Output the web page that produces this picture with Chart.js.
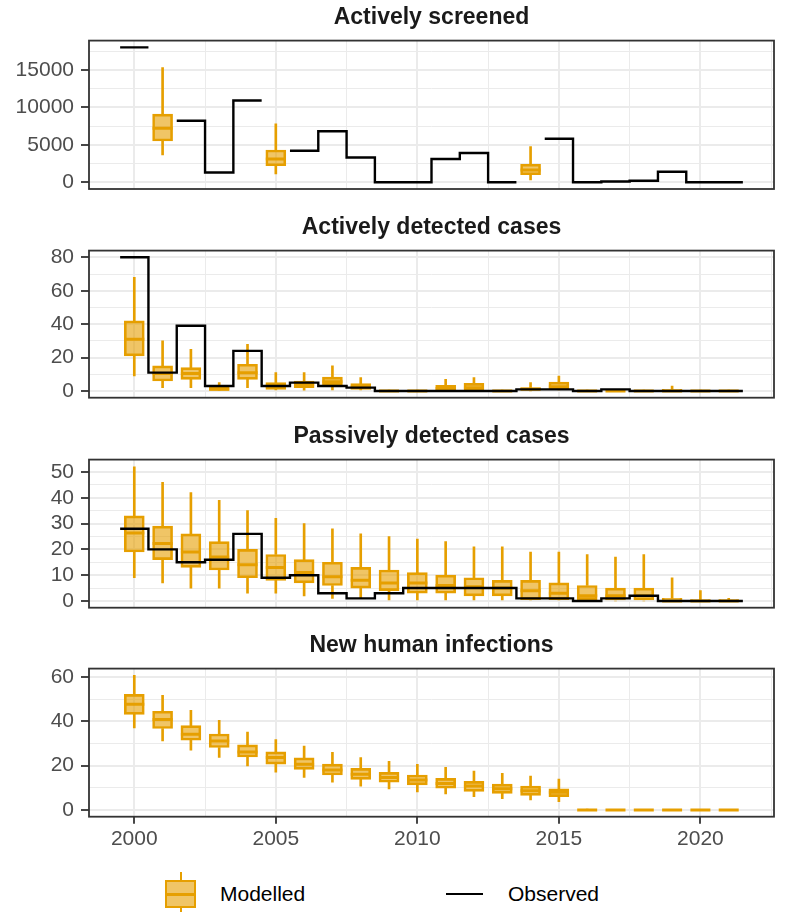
<!DOCTYPE html>
<html>
<head>
<meta charset="utf-8">
<script src="https://cdn.jsdelivr.net/npm/chart.js@4.4.1/dist/chart.umd.min.js"></script>
<style>
  html, body { margin: 0; padding: 0; background: #ffffff; }
  #page { position: relative; width: 787px; height: 912px; overflow: hidden;
          font-family: 'Liberation Sans', Arial, Helvetica, sans-serif; }
  #page canvas { position: absolute; left: 0; }
  .key-box { position: absolute; left: 165px; top: 880px; width: 31px; height: 28px;
             box-sizing: border-box; border: 2px solid #E69F00; background: rgba(230, 159, 0, 0.6); }
  .key-box .median { position: absolute; left: 0; right: 0; top: 10.5px; height: 3px; background: #E69F00; }
  .key-box .whisker { position: absolute; left: 12.5px; width: 2px; height: 8px; background: #E69F00; }
  .key-box .whisker.up { top: -10px; }
  .key-box .whisker.down { top: 26px; }
  .key-line { position: absolute; left: 446px; top: 892.8px; width: 37px; height: 2.4px; background: #000000; }
  .key-label { position: absolute; top: 882px; font-size: 21px; line-height: 24px; color: #000000; }
</style>
</head>
<body>
<div id="page">
  <canvas id="screened" width="787" height="210" style="top:0px"></canvas>
  <canvas id="active" width="787" height="209" style="top:210px"></canvas>
  <canvas id="passive" width="787" height="209" style="top:419px"></canvas>
  <canvas id="infections" width="787" height="240" style="top:628px"></canvas>

  <div class="key-box"><span class="whisker up"></span><span class="median"></span><span class="whisker down"></span></div>
  <span class="key-label" style="left:220px">Modelled</span>
  <div class="key-line"></div>
  <span class="key-label" style="left:508px">Observed</span>
</div>

<script>
// years shown on the x axis
const years = [2000, 2001, 2002, 2003, 2004, 2005, 2006, 2007, 2008, 2009, 2010,
               2011, 2012, 2013, 2014, 2015, 2016, 2017, 2018, 2019, 2020, 2021];
const xTicks = [2000, 2002.5, 2005, 2007.5, 2010, 2012.5, 2015, 2017.5, 2020, 2022.5];
const xLabels = [2000, 2005, 2010, 2015, 2020];
const xRange = [1998.4, 2022.6];

// Actively screened
const screenedObserved = [18000, null, 8200, 1300, 10900, null, 4200, 6800, 3300, 0, 0,
                          3100, 3900, 0, null, 5800, 0, 100, 200, 1400, 0, 0];
const screenedLow    = [null, 3650, null, null, null, 1100, null, null, null, null, null,
                        null, null, null, 300, null, null, null, null, null, null, null];
const screenedQ1     = [null, 5500, null, null, null, 2200, null, null, null, null, null,
                        null, null, null, 1000, null, null, null, null, null, null, null];
const screenedMedian = [null, 7200, null, null, null, 3100, null, null, null, null, null,
                        null, null, null, 1650, null, null, null, null, null, null, null];
const screenedQ3     = [null, 9100, null, null, null, 4300, null, null, null, null, null,
                        null, null, null, 2400, null, null, null, null, null, null, null];
const screenedHigh   = [null, 15300, null, null, null, 7800, null, null, null, null, null,
                        null, null, null, 4750, null, null, null, null, null, null, null];
const screenedTicks = [0, 2500, 5000, 7500, 10000, 12500, 15000, 17500];
const screenedLabels = [0, 5000, 10000, 15000];
const screenedRange = [-900, 18900];

// Actively detected cases
const activeObserved = [80, 11, 39, 3, 24, 3, 5, 3, 2, 0, 0, 0, 0, 0, 1, 1, 0, 1, 0, 0, 0, 0];
const activeLow    = [9, 2, 2, 0, 2, 0, 0.5, 0, 0, 0, 0, 0, 0, 0, 0, 0, 0, 0, 0, 0, 0, 0];
const activeQ1     = [21, 6, 7, 0.3, 7, 1, 2, 3.4, 1, 0, 0, 0.4, 0.5, 0, 0, 1.4, 0, 0, 0, 0, 0, 0];
const activeMedian = [31, 10.5, 10.5, 1, 11, 3, 4, 5.5, 2.5, 0, 0, 1.5, 2, 0, 1, 2.5, 0, 0, 0, 0, 0, 0];
const activeQ3     = [42, 15, 14, 2.6, 16, 5, 6, 8.3, 4.4, 0.3, 0.3, 3.4, 4.6, 0.3, 2, 5.3, 0.3, 1, 0.3, 1, 0.3, 0.3];
const activeHigh   = [68, 30, 25, 5, 28, 11, 11, 15, 8, 0.5, 0.5, 7, 8, 0.5, 5, 9, 0.5, 1, 0.5, 3, 0.5, 0.5];
const activeTicks = [0, 10, 20, 30, 40, 50, 60, 70, 80];
const activeLabels = [0, 20, 40, 60, 80];
const activeRange = [-4, 84];

// Passively detected cases
const passiveObserved = [28, 20, 15, 16, 26, 9, 10, 3, 1, 3, 5, 5, 5, 5, 1, 1, 0, 1, 2, 0, 0, 0];
const passiveLow    = [9, 7, 5, 5, 3, 3, 2, 1, 1, 0, 0, 0, 0, 0, 0, 0, 0, 0, 0, 0, 0, 0];
const passiveQ1     = [19, 16, 13, 12, 9, 8, 7, 6, 5, 4, 3, 3, 2, 2, 0.5, 0.5, 0.5, 0, 0, 0, 0, 0];
const passiveMedian = [26.4, 22.3, 19, 17, 14, 13, 11, 9.4, 8, 7, 7, 6, 5.5, 5, 4, 3, 2, 2, 2, 0, 0, 0];
const passiveQ3     = [33, 29, 26, 23, 20, 18, 16, 15, 13, 12, 11, 10, 9, 8, 8, 7, 6, 5, 5, 1, 0.5, 0.5];
const passiveHigh   = [52, 46, 42, 39, 35, 32, 30, 28, 26, 25, 24, 23, 21, 21, 19, 19, 18, 17, 18, 9, 4, 1];
const passiveTicks = [0, 5, 10, 15, 20, 25, 30, 35, 40, 45, 50];
const passiveLabels = [0, 10, 20, 30, 40, 50];
const passiveRange = [-2.61, 54.81];

// New human infections (modelled only)
const infectionsLow    = [37, 31.2, 27, 23.7, 19.9, 17.1, 14.7, 12.5, 10.8, 9.5, 8.2, 7.2, 6, 5.1, 4.5, 3.7, 0, 0, 0, 0, 0, 0];
const infectionsQ1     = [43.2, 36.8, 31.5, 28.2, 23.9, 20.7, 18.3, 15.8, 13.8, 12.5, 11.3, 9.8, 8.4, 7.5, 6.6, 6, 0, 0, 0, 0, 0, 0];
const infectionsMedian = [47.7, 40.8, 34.2, 31.2, 26.2, 23.7, 20.7, 18, 16.1, 14.7, 13.5, 12, 10.8, 9.6, 8.7, 8, 0, 0, 0, 0, 0, 0];
const infectionsQ3     = [52.2, 44.6, 38.1, 34.3, 29.4, 26.2, 23.5, 20.7, 18.8, 17, 15.8, 14.3, 12.9, 11.7, 10.8, 9.6, 0, 0, 0, 0, 0, 0];
const infectionsHigh   = [60.8, 51.8, 45, 40.5, 35.2, 31.8, 28.8, 26, 23.7, 22, 20.6, 19.2, 17.6, 16.5, 15.3, 14, 0.3, 0, 0, 0, 0, 0];
const infectionsTicks = [0, 10, 20, 30, 40, 50, 60];
const infectionsLabels = [0, 20, 40, 60];
const infectionsRange = [-3.04, 63.84];

const ORANGE = '#E69F00';
const ORANGE_FILL = 'rgba(230, 159, 0, 0.6)';
const GRID = '#EBEBEB';
const INK = '#333333';

Chart.defaults.font.family = "'Liberation Sans', Arial, Helvetica, sans-serif";

// rectangle round the plotting area, drawn over the data
const panelFrame = {
  id: 'panelFrame',
  afterDatasetsDraw(chart) {
    const { ctx, chartArea: a } = chart;
    ctx.save();
    ctx.strokeStyle = INK;
    ctx.lineWidth = 1.8;
    ctx.strokeRect(a.left, a.top, a.right - a.left, a.bottom - a.top);
    ctx.restore();
  }
};

// one horizontal segment per year, joined to the next year when both exist
function stepPoints(values) {
  const pts = [];
  values.forEach((v, i) => {
    if (v === null) {
      pts.push({ x: years[i], y: null });
    } else {
      pts.push({ x: years[i] - 0.5, y: v }, { x: years[i] + 0.5, y: v });
    }
  });
  return pts;
}

function floating(lo, hi) {
  const out = [];
  years.forEach((yr, i) => {
    if (lo[i] !== null && hi[i] !== null) out.push({ x: yr, y: [lo[i], hi[i]] });
  });
  return out;
}

function points(values) {
  const out = [];
  years.forEach((yr, i) => {
    if (values[i] !== null) out.push({ x: yr, y: values[i] });
  });
  return out;
}

function gridWidth(majors) {
  return ctx => (ctx.tick && majors.includes(ctx.tick.value)) ? 2 : 1;
}
function tickColour(majors) {
  return ctx => (ctx.tick && majors.includes(ctx.tick.value)) ? INK : 'rgba(0,0,0,0)';
}

function makePanel(id, title, p) {
  const datasets = [
    { type: 'bar', data: floating(p.low, p.q1), backgroundColor: ORANGE, borderWidth: 0,
      barThickness: 2, maxBarThickness: 2, grouped: false, order: 5 },
    { type: 'bar', data: floating(p.q3, p.high), backgroundColor: ORANGE, borderWidth: 0,
      barThickness: 2, maxBarThickness: 2, grouped: false, order: 5 },
    { type: 'bar', data: floating(p.q1, p.q3), backgroundColor: ORANGE_FILL, borderColor: ORANGE,
      borderWidth: 2, borderSkipped: false, barThickness: 20, maxBarThickness: 20,
      grouped: false, order: 4 },
    { type: 'line', data: points(p.median), showLine: false, pointStyle: 'line',
      pointRadius: 10, pointBorderWidth: 3, pointBorderColor: ORANGE, order: 3 }
  ];
  if (p.observed) {
    datasets.push({ type: 'line', data: stepPoints(p.observed), borderColor: '#000000',
      borderWidth: 2.4, pointRadius: 0, spanGaps: false, tension: 0,
      borderJoinStyle: 'miter', order: 1 });
  }

  new Chart(document.getElementById(id), {
    type: 'line',
    data: { datasets },
    plugins: [panelFrame],
    options: {
      responsive: false,
      animation: false,
      events: [],
      layout: { padding: { left: 0, right: 3, top: 0, bottom: p.padBottom } },
      plugins: {
        legend: { display: false },
        tooltip: { enabled: false },
        title: {
          display: true, text: title, fullSize: false, color: '#1A1A1A',
          font: { size: 23, weight: 'bold' }, padding: { top: 4, bottom: 9 }
        }
      },
      scales: {
        x: {
          type: 'linear', min: xRange[0], max: xRange[1], offset: false,
          afterBuildTicks: s => { s.ticks = xTicks.map(v => ({ value: v })); },
          afterFit: s => { s.height = p.showX ? 40 : 0; },
          grid: { offset: false, color: GRID, lineWidth: gridWidth(xLabels),
                  drawTicks: p.showX, tickLength: 7, tickColor: tickColour(xLabels), tickWidth: 1.8 },
          border: { display: false },
          ticks: { display: p.showX, autoSkip: false, maxRotation: 0, padding: 3,
                   color: '#4D4D4D', font: { size: 21 },
                   callback: v => xLabels.includes(v) ? String(v) : '' }
        },
        y: {
          type: 'linear', min: p.range[0], max: p.range[1],
          afterBuildTicks: s => { s.ticks = p.ticks.map(v => ({ value: v })); },
          afterFit: s => { s.width = 89; },
          grid: { color: GRID, lineWidth: gridWidth(p.labels), tickLength: 8,
                  tickColor: tickColour(p.labels), tickWidth: 1.8 },
          border: { display: false },
          ticks: { autoSkip: false, padding: 7, color: '#4D4D4D', font: { size: 21 },
                   callback: v => p.labels.includes(v) ? String(v) : '' }
        }
      }
    }
  });
}

makePanel('screened', 'Actively screened', {
  observed: screenedObserved, low: screenedLow, q1: screenedQ1, median: screenedMedian,
  q3: screenedQ3, high: screenedHigh, ticks: screenedTicks, labels: screenedLabels,
  range: screenedRange, showX: false, padBottom: 21
});
makePanel('active', 'Actively detected cases', {
  observed: activeObserved, low: activeLow, q1: activeQ1, median: activeMedian,
  q3: activeQ3, high: activeHigh, ticks: activeTicks, labels: activeLabels,
  range: activeRange, showX: false, padBottom: 21.3
});
makePanel('passive', 'Passively detected cases', {
  observed: passiveObserved, low: passiveLow, q1: passiveQ1, median: passiveMedian,
  q3: passiveQ3, high: passiveHigh, ticks: passiveTicks, labels: passiveLabels,
  range: passiveRange, showX: false, padBottom: 20.3
});
makePanel('infections', 'New human infections', {
  observed: null, low: infectionsLow, q1: infectionsQ1, median: infectionsMedian,
  q3: infectionsQ3, high: infectionsHigh, ticks: infectionsTicks, labels: infectionsLabels,
  range: infectionsRange, showX: true, padBottom: 11.3
});
</script>
</body>
</html>
